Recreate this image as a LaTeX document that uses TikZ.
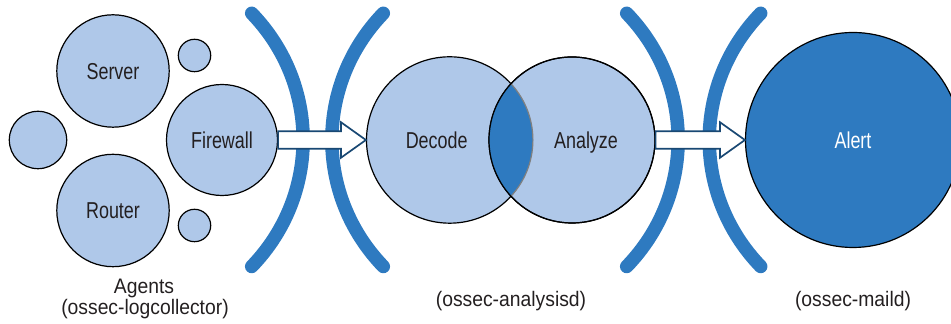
\documentclass[tikz,border=0pt]{standalone}
\usepackage{fontspec}
\setmainfont{Liberation Sans}[FakeStretch=0.78]
\newfontfamily\capfont{Liberation Sans}[FakeStretch=0.92]
\usetikzlibrary{calc}
\definecolor{paleblue}{RGB}{175,200,233}
\definecolor{deepblue}{RGB}{46,122,192}
\definecolor{arrowline}{RGB}{25,72,115}
\definecolor{ink}{RGB}{35,31,32}
\tikzset{
  word/.style = {text=ink, font=\fontsize{11.5}{13}\selectfont,
    text height=8.2pt, text depth=0pt},
  bubble/.style = {circle, draw=black, line width=0.6pt, fill=paleblue,
    inner sep=0pt, word},
  wall/.style = {draw=deepblue, line width=6.75pt, line cap=round},
  flow/.style = {draw=arrowline, fill=white, line width=0.85pt},
  caption/.style = {anchor=base, text=ink, font=\capfont\fontsize{10.5}{12}\selectfont}
}
\newcommand{\flowarrow}[2]{%
  \draw[flow] ($(#1)+(0,8.8)$) -- ($(#2)+(-25,8.8)$) -- ($(#2)+(-25,17.8)$) -- (#2)
    -- ($(#2)+(-25,-17.8)$) -- ($(#2)+(-25,-8.8)$) -- ($(#1)+(0,-8.8)$) -- cycle;}

\begin{document}
\begin{tikzpicture}[x=0.5pt,y=0.5pt]
  \useasboundingbox (0,0) rectangle (951,324);
  \clip (0,0) rectangle (951,324);
  % agents
  \node[bubble,minimum size=56.2pt] (srv) at (113,253) {Server};
  \node[bubble,minimum size=56.2pt] (rtr) at (113,113.5) {Router};
  \node[bubble,minimum size=55.5pt] (fw) at (222,184) {Firewall};
  \node[bubble,minimum size=28.7pt] (dotL) at (38,184) {};
  \node[bubble,minimum size=16.2pt] (dotT) at (194.5,268.5) {};
  \node[bubble,minimum size=16.2pt] (dotB) at (194.5,98.5) {};
  % walls
  \foreach \x/\b in {251.7/left, 383.3/right, 626.7/left, 760.7/right}
    \draw[wall] (\x,310.7) to[bend \b=44] (\x,57.5);
  % analysisd
  \node[bubble,minimum size=83.2pt,label={[word,xshift=-6.5pt]center:Decode}] (dec) at (449.7,184) {};
  \node[bubble,minimum size=83pt,label={[word,xshift=7pt]center:Analyze}] (ana) at (572,184) {};
  \begin{scope}
    \clip (ana.center) circle[radius=41.5pt];
    \fill[deepblue,draw=gray,line width=0.6pt] (dec.center) circle[radius=41.6pt];
  \end{scope}
  \draw[line width=0.6pt] (ana.center) circle[radius=41.5pt];
  % maild
  \node[bubble,fill=deepblue,text=white,minimum size=107.5pt] (alert) at (853,184) {Alert};
  \flowarrow{fw.east}{dec.west}
  \flowarrow{ana.east}{alert.west}
  % captions
  \node[caption] (agents) at (144,30) {Agents};
  \node[caption] (logc) at (145,9) {(ossec-logcollector)};
  \node[caption] (anad) at (511,17) {(ossec-analysisd)};
  \node[caption] (maild) at (853,17) {(ossec-maild)};
\end{tikzpicture}
\end{document}
